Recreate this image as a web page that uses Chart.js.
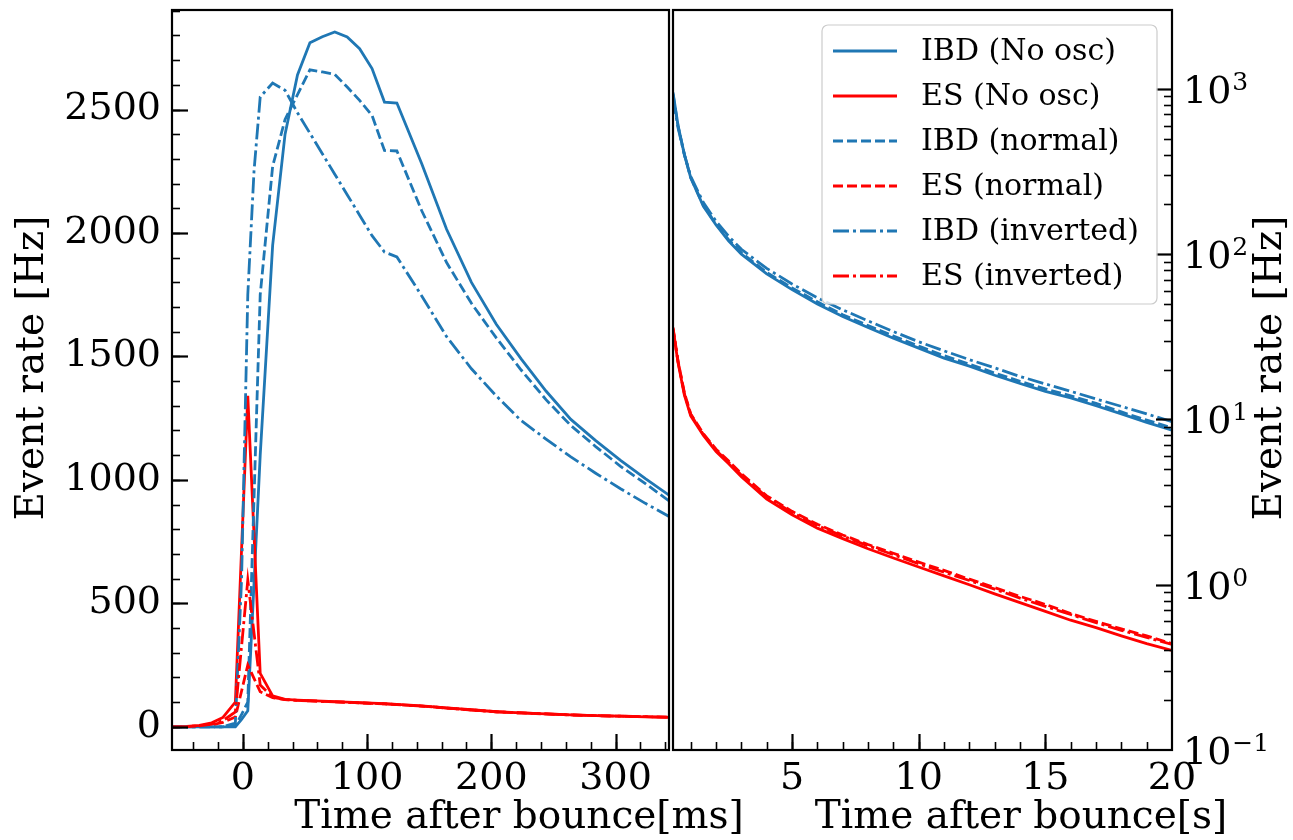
<!DOCTYPE html>
<html>
<head>
<meta charset="utf-8">
<title>Event rate after bounce</title>
<script src="https://cdn.jsdelivr.net/npm/chart.js@4.4.1/dist/chart.umd.min.js"></script>
<style>
  html, body { margin: 0; padding: 0; background: #fff; }
  #wrap { position: relative; width: 1293px; height: 840px; }
  #wrap canvas { position: absolute; left: 0; top: 0; }
</style>
</head>
<body>
<div id="wrap">
  <canvas id="leftChart" width="1293" height="840"></canvas>
  <canvas id="rightChart" width="1293" height="840"></canvas>
</div>
<script>
// ── Data: left panel, time after bounce in ms (linear axis) ──
const timeMs = [-57, -45, -35, -25, -16, -6, -1, 4, 9, 14, 24, 34, 44, 54, 64, 74, 84, 94, 104, 114, 124,
  144, 164, 184, 204, 224, 244, 264, 284, 304, 324, 343];
const ibdNoOscMs = [0, 0, 0, 0, 0, 0, 30, 65, 580, 1100, 1950, 2400, 2640, 2770, 2795, 2814, 2794, 2746, 2666, 2530, 2526,
  2280, 2015, 1800, 1630, 1490, 1360, 1245, 1159, 1079, 1005, 938];
const esNoOscMs = [0, 2, 6, 16, 38, 100, 720, 1340, 780, 216, 125, 111, 108, 106, 104, 102, 100, 98, 96, 94, 91,
  85, 77, 69, 61, 56, 52, 48, 45, 43, 40, 38];
const ibdNormalMs = [0, 0, 0, 0, 0, 5, 50, 100, 925, 1750, 2270, 2460, 2560, 2661, 2652, 2642, 2591, 2537, 2476, 2334, 2332,
  2090, 1880, 1715, 1575, 1445, 1325, 1220, 1135, 1055, 985, 915];
const esNormalMs = [0, 1, 3, 8, 18, 40, 145, 250, 196, 142, 118, 110, 107, 105, 103, 101, 99, 97, 95, 93, 90,
  84, 76, 68, 61, 56, 52, 48, 45, 43, 41, 39];
const ibdInvertedMs = [0, 0, 0, 0, 0, 15, 600, 1750, 2250, 2551, 2607, 2578, 2487, 2404, 2321, 2238, 2155, 2072, 1989, 1923, 1903,
  1745, 1580, 1450, 1340, 1240, 1165, 1093, 1027, 964, 905, 852];
const esInvertedMs = [0, 1, 4, 11, 25, 60, 327, 594, 380, 169, 120, 110, 107, 105, 103, 101, 99, 97, 95, 93, 90,
  84, 76, 68, 61, 56, 52, 48, 45, 43, 41, 39];

// ── Data: right panel, time after bounce in s (log y axis) ──
const timeS = [0.3, 0.5, 0.75, 1, 1.5, 2, 2.5, 3, 4, 5, 6, 7, 8, 9, 10, 11, 12, 13, 14, 15, 16, 17, 18, 19, 20];
const ibdNoOscS = [950, 600, 400, 290, 195, 150, 120, 100, 76, 61, 50, 42, 36, 31, 27, 23.5, 21, 18.5, 16.5, 14.8, 13.5, 12.1, 10.8, 9.6, 8.6];
const esNoOscS = [35, 22, 14, 10.5, 8.0, 6.4, 5.4, 4.5, 3.3, 2.65, 2.2, 1.9, 1.65, 1.45, 1.28, 1.13, 1.0, 0.88, 0.78, 0.69, 0.61, 0.55, 0.49, 0.44, 0.40];
const ibdNormalS = [930, 595, 400, 290, 197, 152, 122, 102, 77.5, 62.5, 51.5, 43, 37, 32, 27.8, 24.3, 21.6, 19.1, 17, 15.3, 13.9, 12.5, 11.1, 9.9, 8.9];
const esNormalS = [36, 22.5, 14.5, 10.8, 8.2, 6.6, 5.6, 4.7, 3.45, 2.78, 2.32, 2.0, 1.75, 1.55, 1.37, 1.22, 1.08, 0.96, 0.85, 0.76, 0.67, 0.6, 0.54, 0.49, 0.44];
const ibdInvertedS = [880, 580, 400, 295, 205, 158, 128, 107, 82, 66, 54.5, 46, 39.5, 34, 29.5, 26, 23, 20.5, 18.2, 16.4, 14.8, 13.3, 12.0, 10.8, 9.7];
const esInvertedS = [35.5, 22.3, 14.3, 10.7, 8.1, 6.5, 5.5, 4.6, 3.4, 2.74, 2.28, 1.97, 1.72, 1.52, 1.34, 1.19, 1.06, 0.94, 0.83, 0.74, 0.66, 0.59, 0.53, 0.48, 0.435];

// ── Tick labels ──
const leftXTicks = [0, 100, 200, 300];
const leftYTicks = [0, 500, 1000, 1500, 2000, 2500];
const rightXTicks = [5, 10, 15, 20];
const rightYTicks = [0.1, 1, 10, 100, 1000];
const rightYExponents = ['−1', '0', '1', '2', '3'];

const seriesNames = ['IBD (No osc)', 'ES (No osc)', 'IBD (normal)', 'ES (normal)', 'IBD (inverted)', 'ES (inverted)'];

// ── Styling ──
const FONT = '"DejaVu Serif", "Liberation Serif", serif';
const BLUE = '#1f77b4';
const RED = '#ff0000';
const DASH = [10, 4];
const DASHDOT = [16, 4, 3, 4];
const styles = [
  { color: BLUE, dash: [] }, { color: RED, dash: [] },
  { color: BLUE, dash: DASH }, { color: RED, dash: DASH },
  { color: BLUE, dash: DASHDOT }, { color: RED, dash: DASHDOT },
];

function makeDatasets(xs, seriesList) {
  return seriesList.map(function (ys, i) {
    return {
      label: seriesNames[i],
      data: xs.map((x, k) => ({ x: x, y: ys[k] })),
      borderColor: styles[i].color,
      borderDash: styles[i].dash,
      borderWidth: 2.8,
      pointRadius: 0,
      tension: 0,
      fill: false,
      order: seriesList.length - i, // later series on top, like matplotlib
    };
  });
}

// keep chart area exactly where the layout padding puts it
function noLabelPadding(s) {
  s.paddingTop = 0; s.paddingBottom = 0; s.paddingLeft = 0; s.paddingRight = 0;
}

// ── Plugin: frame + inward major/minor ticks ──
const frameTicks = {
  id: 'frameTicks',
  afterDatasetsDraw(chart, args, opts) {
    const { ctx, chartArea: a } = chart;
    ctx.save();
    ctx.strokeStyle = '#000';
    ctx.setLineDash([]);
    (opts.marks || []).forEach(function (m) {
      const scale = chart.scales[m.axis];
      const draw = function (vals, len, lw) {
        ctx.lineWidth = lw;
        vals.forEach(function (v) {
          const p = Math.round(scale.getPixelForValue(v)) + 0.5;
          ctx.beginPath();
          if (m.side === 'bottom') {
            if (p < a.left || p > a.right) return;
            ctx.moveTo(p, a.bottom); ctx.lineTo(p, a.bottom - len);
          } else if (m.side === 'left') {
            if (p < a.top || p > a.bottom) return;
            ctx.moveTo(a.left, p); ctx.lineTo(a.left + len, p);
          } else {
            if (p < a.top || p > a.bottom) return;
            ctx.moveTo(a.right, p); ctx.lineTo(a.right - len, p);
          }
          ctx.stroke();
        });
      };
      draw(m.minor, 8, 1.6);
      draw(m.major, 16, 2.2);
    });
    ctx.lineWidth = 2.2;
    ctx.strokeRect(a.left, a.top, a.right - a.left, a.bottom - a.top);
    ctx.restore();
  }
};

// ── Plugin: axis titles placed like the original figure ──
const axisTitles = {
  id: 'axisTitles',
  afterDraw(chart, args, opts) {
    const ctx = chart.ctx;
    ctx.save();
    ctx.fillStyle = '#000';
    ctx.font = opts.size + 'px ' + FONT;
    ctx.textAlign = 'center';
    ctx.textBaseline = 'middle';
    (opts.items || []).forEach(function (t) {
      ctx.save();
      ctx.translate(t.x, t.y);
      if (t.rotate) ctx.rotate(t.rotate);
      ctx.fillText(t.text, 0, 0);
      ctx.restore();
    });
    ctx.restore();
  }
};

// ── Plugin: 10^n labels with a real raised exponent ──
const powerLabels = {
  id: 'powerLabels',
  afterDraw(chart, args, opts) {
    const ctx = chart.ctx;
    const scale = chart.scales[opts.axis];
    const x0 = chart.chartArea.right + opts.gap;
    ctx.save();
    ctx.fillStyle = '#000';
    ctx.textAlign = 'left';
    ctx.textBaseline = 'alphabetic';
    rightYTicks.forEach(function (v, i) {
      const y = scale.getPixelForValue(v);
      ctx.font = opts.size + 'px ' + FONT;
      ctx.fillText('10', x0, y + opts.baseShift);
      const w = ctx.measureText('10').width;
      ctx.font = opts.supSize + 'px ' + FONT;
      ctx.fillText(rightYExponents[i], x0 + w + 1, y + opts.baseShift - opts.raise);
    });
    ctx.restore();
  }
};

// ── Plugin: matplotlib-like legend box ──
const boxLegend = {
  id: 'boxLegend',
  afterDraw(chart, args, opts) {
    const ctx = chart.ctx;
    const b = opts.box;
    ctx.save();
    ctx.beginPath();
    ctx.roundRect(b.x, b.y, b.w, b.h, 6);
    ctx.fillStyle = 'rgba(255,255,255,0.8)';
    ctx.fill();
    ctx.lineWidth = 1.2;
    ctx.strokeStyle = '#cccccc';
    ctx.stroke();
    ctx.font = opts.size + 'px ' + FONT;
    ctx.textBaseline = 'middle';
    ctx.textAlign = 'left';
    chart.data.datasets.forEach(function (ds, i) {
      const y = b.y + opts.firstRow + i * opts.rowStep;
      ctx.beginPath();
      ctx.setLineDash(ds.borderDash);
      ctx.lineWidth = ds.borderWidth;
      ctx.strokeStyle = ds.borderColor;
      ctx.moveTo(b.x + opts.sampleX0, y);
      ctx.lineTo(b.x + opts.sampleX1, y);
      ctx.stroke();
      ctx.setLineDash([]);
      ctx.fillStyle = '#000';
      ctx.fillText(ds.label, b.x + opts.textX, y + 1);
    });
    ctx.restore();
  }
};

const tickFont = { family: FONT, size: 38 };

function minorRange(from, to, step) {
  const out = [];
  for (let v = from; v <= to + 1e-9; v += step) out.push(Math.round(v * 1000) / 1000);
  return out;
}
function logMinor(lo, hi) {
  const out = [];
  for (let d = lo; d < hi; d *= 10) {
    for (let k = 2; k <= 9; k++) out.push(d * k);
  }
  return out;
}

// ── Left chart: linear, ms ──
new Chart(document.getElementById('leftChart'), {
  type: 'line',
  data: {
    datasets: makeDatasets(timeMs, [ibdNoOscMs, esNoOscMs, ibdNormalMs, esNormalMs, ibdInvertedMs, esInvertedMs])
  },
  plugins: [frameTicks, axisTitles],
  options: {
    responsive: false,
    animation: false,
    layout: { padding: { top: 10, right: 624, left: 0, bottom: 0 } },
    plugins: {
      legend: { display: false },
      tooltip: { enabled: false },
      frameTicks: {
        marks: [
          { axis: 'x', side: 'bottom', major: leftXTicks, minor: minorRange(-40, 340, 20) },
          { axis: 'y', side: 'left', major: leftYTicks, minor: minorRange(0, 2900, 100) },
        ]
      },
      axisTitles: {
        size: 39,
        items: [
          { text: 'Event rate [Hz]', x: 33, y: 368, rotate: -Math.PI / 2 },
          { text: 'Time after bounce[ms]', x: 519, y: 818 },
        ]
      }
    },
    scales: {
      x: {
        type: 'linear',
        min: -57,
        max: 343,
        grid: { display: false, drawTicks: false },
        border: { display: false },
        afterBuildTicks: s => { s.ticks = leftXTicks.map(v => ({ value: v })); },
        afterFit: s => { s.height = 90; noLabelPadding(s); },
        ticks: { font: tickFont, color: '#000', padding: 6, maxRotation: 0, autoSkip: false, callback: v => String(v) }
      },
      y: {
        type: 'linear',
        min: -94,
        max: 2903,
        grid: { display: false, drawTicks: false },
        border: { display: false },
        afterBuildTicks: s => { s.ticks = leftYTicks.map(v => ({ value: v })); },
        afterFit: s => { s.width = 172; noLabelPadding(s); },
        ticks: { font: tickFont, color: '#000', padding: 11, autoSkip: false, callback: v => String(v) }
      }
    }
  }
});

// ── Right chart: log, s ──
new Chart(document.getElementById('rightChart'), {
  type: 'line',
  data: {
    datasets: makeDatasets(timeS, [ibdNoOscS, esNoOscS, ibdNormalS, esNormalS, ibdInvertedS, esInvertedS])
  },
  plugins: [frameTicks, axisTitles, powerLabels, boxLegend],
  options: {
    responsive: false,
    animation: false,
    layout: { padding: { top: 10, right: 0, left: 673, bottom: 0 } },
    plugins: {
      legend: { display: false },
      tooltip: { enabled: false },
      frameTicks: {
        marks: [
          { axis: 'x', side: 'bottom', major: rightXTicks, minor: minorRange(1, 19, 1) },
          { axis: 'y', side: 'right', major: rightYTicks, minor: logMinor(0.1, 1000) },
        ]
      },
      axisTitles: {
        size: 39,
        items: [
          { text: 'Event rate [Hz]', x: 1271, y: 368, rotate: -Math.PI / 2 },
          { text: 'Time after bounce[s]', x: 1021, y: 818 },
        ]
      },
      powerLabels: { axis: 'y', gap: 11, size: 38, supSize: 25, baseShift: 14, raise: 13 },
      boxLegend: {
        size: 30,
        box: { x: 822, y: 25, w: 335, h: 279 },
        firstRow: 26,
        rowStep: 45,
        sampleX0: 11,
        sampleX1: 75,
        textX: 99
      }
    },
    scales: {
      x: {
        type: 'linear',
        min: 0.3,
        max: 20,
        grid: { display: false, drawTicks: false },
        border: { display: false },
        afterBuildTicks: s => { s.ticks = rightXTicks.map(v => ({ value: v })); },
        afterFit: s => { s.height = 90; noLabelPadding(s); },
        ticks: { font: tickFont, color: '#000', padding: 6, maxRotation: 0, autoSkip: false, callback: v => String(v) }
      },
      y: {
        type: 'logarithmic',
        position: 'right',
        min: 0.1,
        max: 3000,
        grid: { display: false, drawTicks: false },
        border: { display: false },
        afterBuildTicks: s => { s.ticks = rightYTicks.map(v => ({ value: v })); },
        afterFit: s => { s.width = 121; noLabelPadding(s); },
        ticks: { display: false }
      }
    }
  }
});
</script>
</body>
</html>
